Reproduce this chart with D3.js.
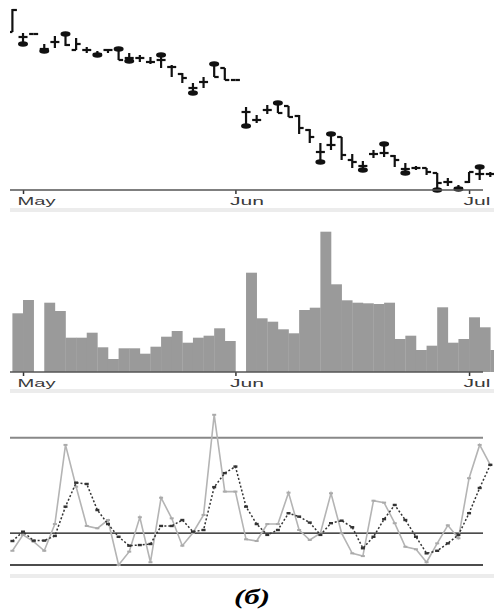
<!DOCTYPE html>
<html>
<head>
<meta charset="utf-8">
<script src="https://cdn.jsdelivr.net/npm/d3@7"></script>
<style>
  body { margin: 0; background: #fff; }
</style>
</head>
<body>
<script>
const width = 494;
const height = 613;

// trading days, index 0 = Apr 30
const tickIdx = [1, 21, 43];
const tickLabels = ["May", "Jun", "Jul"];
const labelWidths = [38, 34, 27];

const highs = [38.1,35.7,35.6,34.6,35.4,35.7,35.2,34.3,33.9,34.1, 34.2,33.7,33.5,33.3,33.6,32.5,31.7,30.7,31.3,32.7,
  32.2,31.0,28.3,27.5,28.5,28.8,28.4,27.5,26.1,24.7, 25.7,25.3,23.6,22.9,24.0,24.7,23.5,22.7,22.4,22.2,
  21.7,21.2,20.5,21.8,22.4,21.8];
const lows = [35.8,34.5,35.6,33.8,34.2,34.4,34.0,33.7,33.4,33.7, 33.0,32.8,32.8,32.6,32.2,31.3,30.7,29.6,30.2,31.3,
  31.0,31.0,26.3,26.7,27.6,27.7,27.3,25.6,24.7,22.7, 24.0,23.0,22.2,21.9,23.2,23.3,22.3,21.6,22.0,21.5,
  19.9,20.4,20.0,20.7,21.0,21.3];
const opens = [35.8,35.3,35.6,34.1,34.8,35.6,34.0,34.0,33.6,34.0, 34.1,33.2,33.2,32.8,33.0,32.3,31.6,30.2,30.8,32.6,
  32.2,31.0,27.8,27.0,28.0,28.7,28.4,27.4,26.0,23.8, 24.5,25.3,23.0,22.4,23.6,23.7,23.4,22.1,22.2,22.2,
  21.7,20.8,20.2,20.8,21.6,21.6];
const closes = [38.0,35.3,35.6,34.1,34.8,34.5,34.6,34.0,33.6,34.0, 33.0,33.2,33.2,32.8,33.0,32.3,31.2,30.2,30.8,31.3,
  31.0,31.0,27.8,27.0,28.0,27.7,27.3,26.2,25.3,23.8, 24.5,23.5,22.8,22.4,23.6,23.7,23.0,22.1,22.2,21.8,
  20.7,20.8,20.2,21.8,21.6,21.6];
// blob marker: h = at high, l = at low
const blobs = ["","l","","l","","h","","","l","", "h","l","","","h","","","l","","h",
  "","","l","","","h","","","","l", "h","","","l","","h","","l","","",
  "l","","l","","h",""];

const volumes = [58.7,72,0,69.3,61,34.3,34.3,39.3,24.7,13, 23.7,23.7,18.3,25.3,35.3,41,29.3,34.3,36.3,43.7,
  31,0,99.3,53.7,50.3,42.7,38.7,62,64.3,140.3, 87.7,71.7,69.3,68.7,68,69.3,33,36.3,22,26.3,
  64.7,29.3,33,54.7,44.7,22];

const oscFast = [26.7,34.2,31.0,26.7,39.3,76.6,56.9,38.4,37.3,41.2, 20,26.3,42.5,21.3,51.7,42.0,29.1,35.2,43.6,90.8,
  54.6,54.6,32.1,31.3,39.3,39.3,54.1,36.5,31.8,35.0, 53.8,35.0,25.5,24.2,50.3,49.4,39.7,28.6,27.4,21.3,
  30.2,38.7,32.6,60.9,76.6,67.2];
const oscSlow = [31.3,35.7,31.5,31.5,33.7,47.5,58.8,58.2,45.9,39.3, 33.3,29.1,29.4,29.9,38.4,38.4,41.2,35.7,36.5,56.7,
  63.3,66.4,47.5,39.3,34.2,36.5,44.4,42.8,40.0,34.2, 39.7,40.9,37.8,27.9,33.3,41.6,48.3,41.2,33.3,25.5,
  26.7,30.2,34.2,44.4,56.3,67.2];
const oscLevels = [80, 35, 20];

const svg = d3.select("body")
    .append("svg")
    .attr("width", width)
    .attr("height", height)
    .style("font-family", "'DejaVu Sans', Verdana, sans-serif");

const n = highs.length;
const xScale = d3.scaleLinear().domain([0, n - 1]).range([12.4, 490.3]);
const step = xScale(1) - xScale(0);

const priceY = d3.scaleLinear().domain([20, 38]).range([190, 10]);
const volY = d3.scaleLinear().domain([0, 150]).range([372, 222]);
const oscY = d3.scaleLinear().domain([20, 80]).range([565, 437.7]);

svg.append("clipPath").attr("id", "clip")
  .append("rect").attr("x", 10).attr("y", 0).attr("width", 484).attr("height", height);

// light separator strips under each panel
[208, 389, 574].forEach(y => {
  svg.append("rect").attr("x", 10).attr("y", y).attr("width", 484).attr("height", 4).attr("fill", "#ececec");
});

function monthAxis(y) {
  const axis = d3.axisBottom(xScale)
      .tickValues(tickIdx)
      .tickFormat((d, i) => tickLabels[i])
      .tickSize(4)
      .tickPadding(3);
  const g = svg.append("g").attr("transform", `translate(0,${y})`).call(axis);
  g.select(".domain").remove();
  g.selectAll(".tick line").attr("stroke", "#333").attr("stroke-width", 1.5);
  g.selectAll(".tick text")
    .attr("text-anchor", "start")
    .attr("dx", -6)
    .attr("font-size", 11)
    .attr("fill", "#3a3a3a")
    .attr("textLength", (d, i) => labelWidths[i])
    .attr("lengthAdjust", "spacingAndGlyphs");
  svg.append("line")
    .attr("x1", 10).attr("x2", 483)
    .attr("y1", y).attr("y2", y)
    .attr("stroke", "#555").attr("stroke-width", 1.5);
}

// ---- price panel
const candles = svg.append("g").attr("clip-path", "url(#clip)")
  .selectAll("g")
  .data(d3.range(n))
  .join("g")
  .attr("stroke", "#111")
  .attr("stroke-width", 2.2);

candles.append("line")
  .attr("x1", i => xScale(i)).attr("x2", i => xScale(i))
  .attr("y1", i => priceY(highs[i]) ).attr("y2", i => priceY(lows[i]) + 0.01);
candles.append("line")
  .attr("x1", i => xScale(i) - 4.5).attr("x2", i => xScale(i))
  .attr("y1", i => priceY(opens[i])).attr("y2", i => priceY(opens[i]));
candles.append("line")
  .attr("x1", i => xScale(i)).attr("x2", i => xScale(i) + 4.5)
  .attr("y1", i => priceY(closes[i])).attr("y2", i => priceY(closes[i]));

svg.append("g")
  .selectAll("ellipse")
  .data(d3.range(n).filter(i => blobs[i] !== ""))
  .join("ellipse")
  .attr("cx", i => xScale(i))
  .attr("cy", i => blobs[i] === "h" ? priceY(highs[i]) + 1 : priceY(lows[i]) - 1)
  .attr("rx", 5)
  .attr("ry", 2.8)
  .attr("fill", "#111");

monthAxis(190);

// ---- volume panel
svg.append("g").attr("clip-path", "url(#clip)")
  .selectAll("rect")
  .data(volumes)
  .join("rect")
  .attr("x", (d, i) => xScale(i))
  .attr("width", step + 0.3)
  .attr("y", d => volY(d))
  .attr("height", d => volY(0) - volY(d))
  .attr("fill", "#9a9a9a");

monthAxis(372);

// ---- oscillator panel
svg.append("g")
  .selectAll("line")
  .data(oscLevels)
  .join("line")
  .attr("x1", 10).attr("x2", 483)
  .attr("y1", d => oscY(d)).attr("y2", d => oscY(d))
  .attr("stroke", (d, i) => i === 0 ? "#888" : "#111")
  .attr("stroke-width", (d, i) => i === 0 ? 2 : 1.3);

const line = d3.line().x((d, i) => xScale(i)).y(d => oscY(d));

svg.append("path")
  .datum(oscFast)
  .attr("d", line)
  .attr("fill", "none")
  .attr("stroke", "#b4b4b4")
  .attr("stroke-width", 1.6);

svg.append("g")
  .selectAll("rect")
  .data(oscFast)
  .join("rect")
  .attr("x", (d, i) => xScale(i) - 2)
  .attr("y", d => oscY(d) - 1)
  .attr("width", 4).attr("height", 2)
  .attr("fill", "#aaa");

svg.append("path")
  .datum(oscSlow)
  .attr("d", line)
  .attr("fill", "none")
  .attr("stroke", "#333")
  .attr("stroke-width", 1.5)
  .attr("stroke-dasharray", "2,2");

svg.append("g")
  .selectAll("rect")
  .data(oscSlow)
  .join("rect")
  .attr("x", (d, i) => xScale(i) - 2)
  .attr("y", d => oscY(d) - 1.2)
  .attr("width", 4).attr("height", 2.4)
  .attr("fill", "#333");

// caption
svg.append("text")
  .attr("x", 252)
  .attr("y", 604)
  .attr("text-anchor", "middle")
  .attr("font-family", "'Liberation Serif', 'Times New Roman', serif")
  .attr("font-weight", "bold")
  .attr("font-style", "italic")
  .attr("font-size", 22)
  .attr("textLength", 36)
  .attr("lengthAdjust", "spacingAndGlyphs")
  .text("(б)");
</script>
</body>
</html>
